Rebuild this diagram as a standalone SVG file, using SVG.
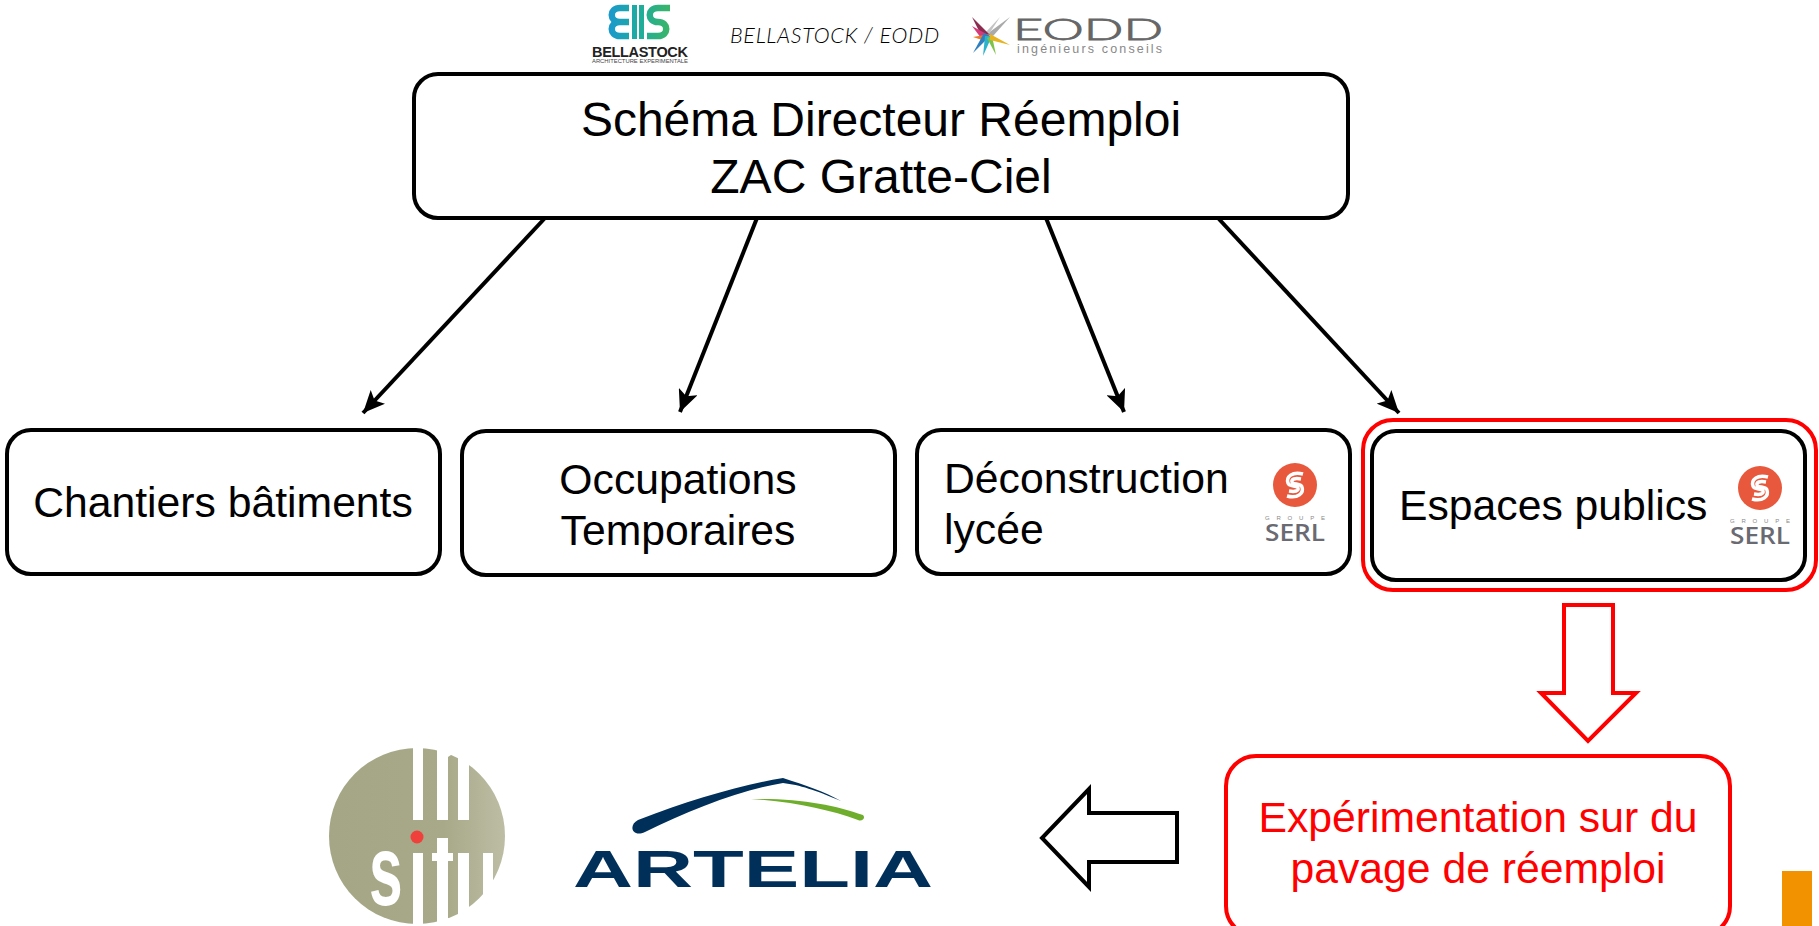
<svg xmlns="http://www.w3.org/2000/svg" width="1819" height="926" viewBox="0 0 1819 926">
<style>
text{font-family:"Liberation Sans",Arial,sans-serif}
.box{fill:#fff;stroke:#000;stroke-width:4}
.lbl{font-size:42.7px;fill:#000;text-anchor:middle}
.big{font-size:48px}
.red{fill:#f00}
.conn{stroke:#000;stroke-width:4;fill:none;marker-end:url(#ah)}
</style>
<defs>
<marker id="ah" markerUnits="userSpaceOnUse" markerWidth="24" markerHeight="20" refX="22" refY="10" orient="auto"><path d="M0 0L22 10L0 20L5 10Z" fill="#000"/></marker>
<linearGradient id="bs" gradientUnits="userSpaceOnUse" x1="610" y1="0" x2="672" y2="0"><stop offset="0" stop-color="#1a9acb"/><stop offset=".5" stop-color="#1fad9b"/><stop offset="1" stop-color="#3cb563"/></linearGradient>
<linearGradient id="st" x1="0" y1="0" x2="1" y2="0"><stop offset="0" stop-color="#a5a685"/><stop offset=".65" stop-color="#a8a988"/><stop offset="1" stop-color="#bcbda4"/></linearGradient>
<g id="serl">
<circle cx="0" cy="0" r="22" fill="#e8583c"/>
<path d="M8 -11C-3 -14 -9 -8 -7 -2C-6 2 2 0 3 3C4 6 0 7 -6 6M-8 11C3 14 9 8 7 2C6 -2 -2 0 -3 -3C-4 -6 0 -7 6 -6" fill="none" stroke="#fff" stroke-width="3.5"/>
<text x="-30" y="35" font-size="6" fill="#888" textLength="60">GROUPE</text>
<text x="-30" y="56" style="font-family:'Open Sans',sans-serif" font-size="24" font-weight="600" fill="#6a6a72" textLength="60" lengthAdjust="spacingAndGlyphs">SERL</text>
</g>
</defs>
<rect width="1819" height="926" fill="#fff"/>
<g id="connectors">
<path class="conn" d="M545 218L363 413"/>
<path class="conn" d="M757 218L680 412"/>
<path class="conn" d="M1046 218L1124 412"/>
<path class="conn" d="M1218 218L1399 413"/>
</g>
<g id="logo-bellastock">
<path d="M629 8H620C609 8 609 22 620 22H629M620 22C609 22 609 36 620 36H629" fill="none" stroke="url(#bs)" stroke-width="6.5"/>
<rect x="632" y="5" width="5" height="34" fill="url(#bs)"/><rect x="639" y="5" width="5" height="34" fill="url(#bs)"/>
<path d="M670 8H658C647 8 647 22 658 22C669 22 669 36 658 36H647" fill="none" stroke="url(#bs)" stroke-width="6.5"/>
<text x="592" y="57" font-size="14.5" font-weight="bold" fill="#222" textLength="96" lengthAdjust="spacing">BELLASTOCK</text>
<text x="592" y="63" font-size="4.5" fill="#444" textLength="96" lengthAdjust="spacingAndGlyphs">ARCHITECTURE EXPERIMENTALE</text>
</g>
<text id="title-firms" x="730" y="43" style="font-family:Lato,sans-serif" font-size="21.5" font-weight="300" font-style="italic" letter-spacing=".7" fill="#000">BELLASTOCK / EODD</text>
<g id="logo-eodd">
<path d="M1010 17L993 36L987 34Z" fill="#aaa"/><path d="M1000 17L989 34L985 33Z" fill="#c4c4c4"/>
<path d="M972 17L990 35L982 37Z" fill="#8c2b50"/><path d="M972 26L990 36L981 38Z" fill="#d63a7a"/>
<path d="M973 37L990 34L985 41Z" fill="#ea7d2e"/><path d="M973 53L990 36L984 33Z" fill="#2d7fc0"/>
<path d="M983 56L992 36L985 36Z" fill="#2db3c9"/><path d="M996 55L992 36L987 38Z" fill="#7fc24a"/><path d="M1010 45L990 34L990 40Z" fill="#e8b321"/>
<text x="0" y="0" transform="translate(1013 40) scale(1.8 1)" style="font-family:Lato,sans-serif" font-size="29" font-weight="300" fill="#666" stroke="#666" stroke-width=".8">EODD</text>
<text x="1017" y="53" font-size="12.5" fill="#888" textLength="145">ingénieurs conseils</text>
</g>
<g id="node-schema">
<rect class="box" x="414" y="74" width="934" height="144" rx="24"/>
<text class="lbl big" x="881" y="136">Schéma Directeur Réemploi</text>
<text class="lbl big" x="881" y="193">ZAC Gratte-Ciel</text>
</g>
<g id="node-chantiers">
<rect class="box" x="7" y="430" width="433" height="144" rx="24"/>
<text class="lbl" x="223" y="517">Chantiers bâtiments</text>
</g>
<g id="node-occupations">
<rect class="box" x="462" y="431" width="433" height="144" rx="24"/>
<text class="lbl" x="678" y="494">Occupations</text>
<text class="lbl" x="678" y="545">Temporaires</text>
</g>
<g id="node-deconstruction">
<rect class="box" x="917" y="430" width="433" height="144" rx="24"/>
<text class="lbl" x="944" y="493" style="text-anchor:start">Déconstruction</text>
<text class="lbl" x="944" y="544" style="text-anchor:start">lycée</text>
<use href="#serl" x="1295" y="485"/>
</g>
<g id="node-espaces">
<rect x="1363" y="420" width="453" height="170" rx="30" fill="#fff" stroke="#f00" stroke-width="4"/>
<rect class="box" x="1372" y="431" width="433" height="149" rx="24"/>
<text class="lbl" x="1399" y="520" style="text-anchor:start">Espaces publics</text>
<use href="#serl" x="1760" y="488"/>
</g>
<g id="arrow-down">
<path d="M1564 605H1613V693H1636L1588 741L1541 693H1564Z" fill="#fff" stroke="#f00" stroke-width="4"/>
</g>
<g id="node-experimentation">
<rect x="1226" y="756" width="504" height="180" rx="30" fill="#fff" stroke="#f00" stroke-width="4"/>
<text class="lbl red" x="1478" y="832">Expérimentation sur du</text>
<text class="lbl red" x="1478" y="883">pavage de réemploi</text>
</g>
<g id="arrow-left">
<path d="M1177 813V862H1089V887L1042 838L1089 789V813Z" fill="#fff" stroke="#000" stroke-width="4"/>
</g>
<g id="logo-situ">
<circle cx="417" cy="836" r="88" fill="url(#st)"/>
<rect x="413" y="745" width="10" height="75" fill="#fff"/>
<rect x="437" y="745" width="11" height="75" fill="#fff"/>
<rect x="458" y="745" width="11" height="75" fill="#fff"/>
<path d="M448 745H458V757Q453 752 448 757Z" fill="#fff"/>
<circle cx="417" cy="837" r="6.5" fill="#f0403c"/>
<text x="0" y="0" font-size="55" font-weight="bold" fill="#fff" transform="translate(369 905) scale(1.1 1.82)">s</text>
<rect x="413" y="853" width="10" height="73" fill="#fff"/>
<rect x="437" y="838" width="11" height="88" fill="#fff"/>
<rect x="432" y="853" width="21" height="8" fill="#fff"/>
<rect x="458" y="853" width="11" height="73" fill="#fff"/>
<rect x="483" y="853" width="10" height="73" fill="#fff"/>
</g>
<g id="logo-artelia">
<path d="M638 820C690 800 740 785 783 778C805 785 825 792 841 801C815 790 800 785 783 783C740 790 690 810 645 832C632 838 628 825 638 820Z" fill="#00305a"/>
<path d="M751 799C800 798 835 805 863 815C866 818 862 822 858 820C830 810 795 802 751 799Z" fill="#6fae2c"/>
<text x="573" y="887" font-size="51" font-weight="bold" fill="#00305a" textLength="360" lengthAdjust="spacingAndGlyphs">ARTELIA</text>
</g>
<rect id="corner-mark" x="1782" y="871" width="30" height="55" fill="#f39200"/>
</svg>
